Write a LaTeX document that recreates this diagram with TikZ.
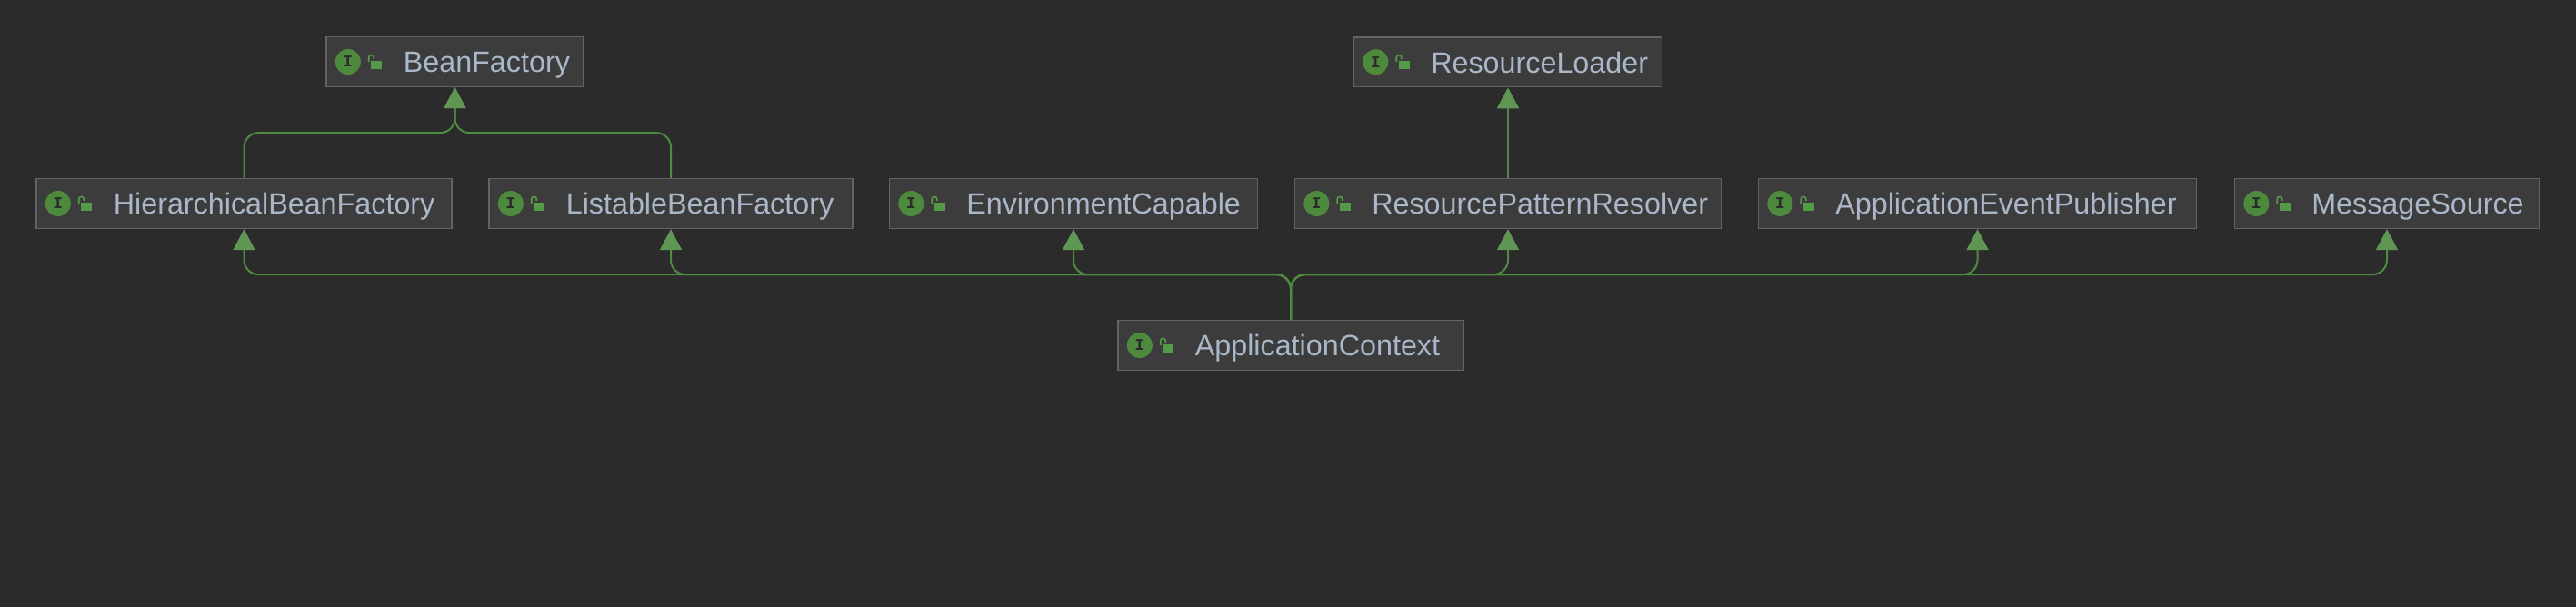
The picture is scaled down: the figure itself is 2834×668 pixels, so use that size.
\documentclass[tikz,border=0pt]{standalone}
\usepackage{fontspec}
\setmainfont{Liberation Sans}
\newfontfamily\badgefont[Scale=1]{Liberation Mono}
\usetikzlibrary{arrows.meta, positioning}

\definecolor{ide_bg}{HTML}{2B2B2B}
\definecolor{box_fill}{HTML}{3C3C3C}
\definecolor{box_line}{HTML}{636363}
\definecolor{box_text}{HTML}{A9B7C9}
\definecolor{link_green}{HTML}{4F8A42}
\definecolor{tip_green}{HTML}{5F9653}
\definecolor{badge_green}{HTML}{4E8A3E}
\definecolor{lock_green}{HTML}{559A48}

\tikzset{
  iface/.style={draw=box_line, fill=box_fill, line width=.75pt, text=box_text,
    font=\fontsize{16.15}{16.15}\selectfont, text height=15pt, text depth=3pt,
    minimum height=27.4pt, inner xsep=0pt, inner ysep=0pt,
    text width=#1, align=left},
  badge/.style={circle, fill=badge_green, text=ide_bg, minimum size=14pt, inner sep=0pt,
    font=\badgefont\bfseries\fontsize{9}{9}\selectfont},
  impl/.style={draw=link_green, line width=1pt, rounded corners=8pt,
    -{Triangle[length=11.5pt, width=12pt, color=tip_green]}},
}

% badge and open lock at the left end of a box
\newcommand{\ifaceicons}[1]{
  \node[badge] (#1_badge) at ([xshift=12.3pt]#1.west) {I};
  \begin{scope}[shift={(#1.west)}]
    \fill[lock_green] (50,-1) rectangle (62,8);
    \draw[lock_green, line width=.8pt, rounded corners=1.2pt] (47.5,0) -- (47.5,-7.5) -- (53,-7.5) -- (53,-3);
  \end{scope}
}
\newcommand{\ifacetext}[1]{\hspace*{42.4pt}#1}

\begin{document}
\begin{tikzpicture}[x=.5pt, y=-.5pt]
  \useasboundingbox[fill=ide_bg] (0,0) rectangle (2834,668);
  \node[iface=228.5pt] (hierarchical) at (268.5,224) {\ifacetext{HierarchicalBeanFactory}};
  \node[iface=200pt, right=19.75pt of hierarchical] (listable) {\ifacetext{ListableBeanFactory}};
  \node[iface=202.5pt, right=19.5pt of listable] (environment) {\ifacetext{EnvironmentCapable}};
  \node[iface=234.5pt, right=19.75pt of environment] (resolver) {\ifacetext{ResourcePatternResolver}};
  \node[iface=241pt, right=19.75pt of resolver] (publisher) {\ifacetext{ApplicationEventPublisher}};
  \node[iface=167.5pt, right=20.25pt of publisher] (messages) {\ifacetext{MessageSource}};
  \node[iface=141.5pt] (bean_factory) at (500.5,68) {\ifacetext{BeanFactory}};
  \node[iface=169.5pt, above=49.75pt of resolver] (loader) {\ifacetext{ResourceLoader}};
  \node[iface=190pt] (context) at (1420,380) {\ifacetext{ApplicationContext}};

  \draw[impl] (hierarchical.north) |- ([yshift=-25pt]bean_factory.south) -- (bean_factory.south);
  \draw[impl] (listable.north) |- ([yshift=-25pt]bean_factory.south) -- (bean_factory.south);
  \draw[impl] (resolver.north) -- (loader.south);
  \draw[impl] (context.north) |- ([yshift=-25pt]hierarchical.south) -- (hierarchical.south);
  \draw[impl] (context.north) |- ([yshift=-25pt]listable.south) -- (listable.south);
  \draw[impl] (context.north) |- ([yshift=-25pt]environment.south) -- (environment.south);
  \draw[impl] (context.north) |- ([yshift=-25pt]resolver.south) -- (resolver.south);
  \draw[impl] (context.north) |- ([yshift=-25pt]publisher.south) -- (publisher.south);
  \draw[impl] (context.north) |- ([yshift=-25pt]messages.south) -- (messages.south);

  \ifaceicons{hierarchical}
  \ifaceicons{listable}
  \ifaceicons{environment}
  \ifaceicons{resolver}
  \ifaceicons{publisher}
  \ifaceicons{messages}
  \ifaceicons{bean_factory}
  \ifaceicons{loader}
  \ifaceicons{context}
\end{tikzpicture}
\end{document}
